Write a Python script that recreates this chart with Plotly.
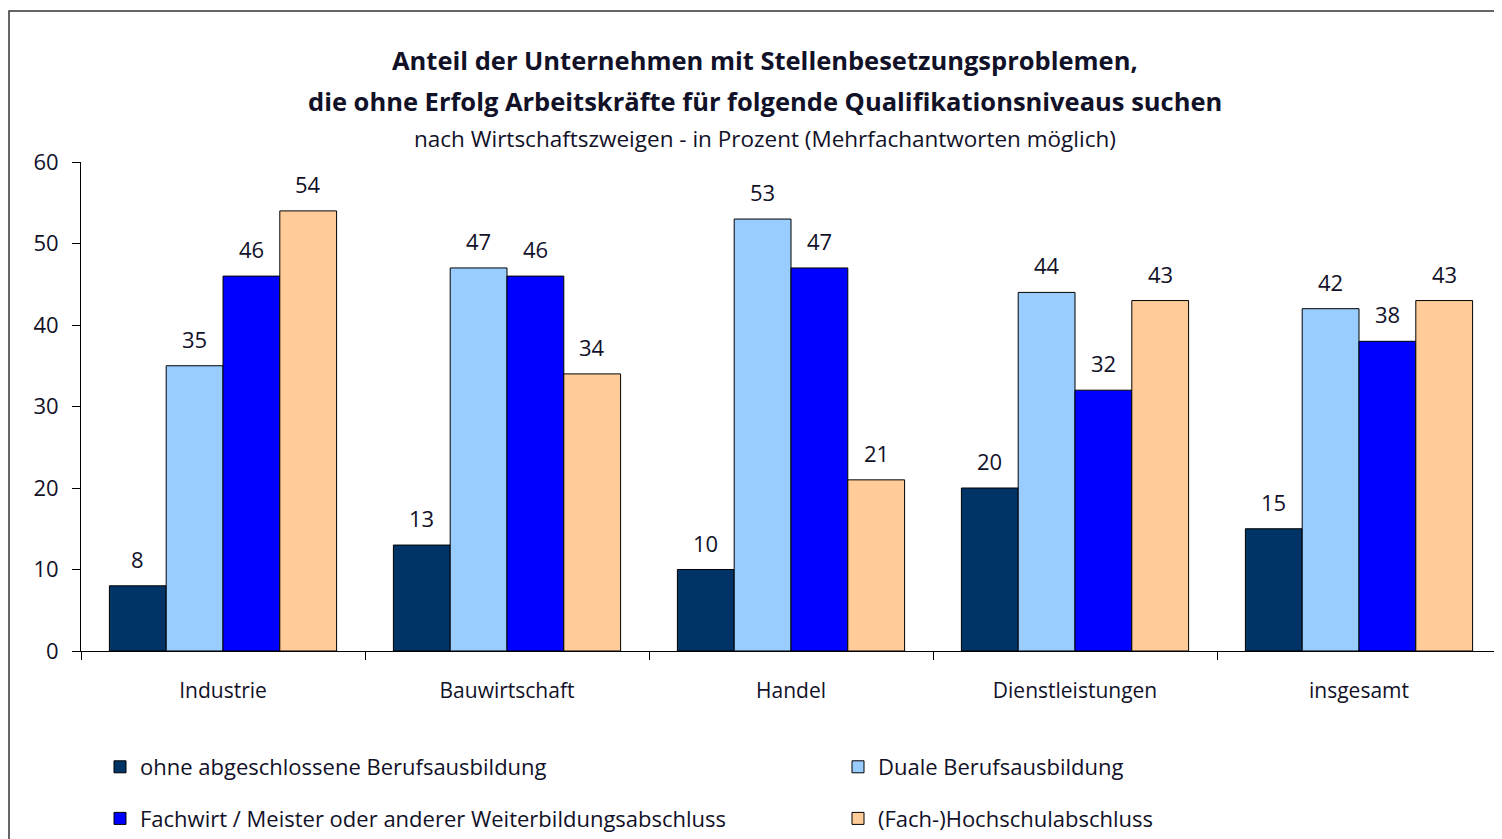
import plotly.graph_objects as go

categories = ["Industrie", "Bauwirtschaft", "Handel", "Dienstleistungen", "insgesamt"]
series_names = [
    "ohne abgeschlossene Berufsausbildung",
    "Duale Berufsausbildung",
    "Fachwirt / Meister oder anderer Weiterbildungsabschluss",
    "(Fach-)Hochschulabschluss",
]
ohne = [8, 13, 10, 20, 15]
duale = [35, 47, 53, 44, 42]
fachwirt = [46, 46, 47, 32, 38]
hochschule = [54, 34, 21, 43, 43]
values = [ohne, duale, fachwirt, hochschule]
colors = ["#003366", "#99CCFF", "#0000FF", "#FFCC99"]
legend_ids = ["legend", "legend2", "legend", "legend2"]
y_ticks = [0, 10, 20, 30, 40, 50, 60]

FONT = "Open Sans"
TXT = "#111128"

# page body offset of the plot div (default HTML body margin)
OFF = 8
W, H = 1502, 839
L, T = 81 - OFF, 162 - OFF
pw, ph = 1420, 489
R = W - L - pw
B = H - T - ph


def px(xs):
    """screen x -> paper x"""
    return (xs - OFF - L) / pw


def py(ys):
    """screen y -> paper y"""
    return (T + ph - (ys - OFF)) / ph


fig = go.Figure()
for name, vals, col, lg in zip(series_names, values, colors, legend_ids):
    fig.add_trace(go.Bar(
        x=categories, y=vals, name=name, legend=lg, legendgroup=name,
        marker=dict(color=col, line=dict(color="#000000", width=1)),
    ))

annotations = []
n = len(values)
bw = 0.8 / n
for i, vals in enumerate(values):
    for j, v in enumerate(vals):
        annotations.append(dict(
            x=j + (i - (n - 1) / 2) * bw, y=v, xref="x", yref="y",
            text=str(v), showarrow=False, yanchor="bottom", yshift=10,
            font=dict(family=FONT, size=22, color=TXT),
        ))

annotations += [
    dict(x=px(765), y=py(60), xref="paper", yref="paper", showarrow=False,
         text="<b>Anteil der Unternehmen mit Stellenbesetzungsproblemen,</b>",
         font=dict(family=FONT, size=25.5, color=TXT), xanchor="center", yanchor="middle"),
    dict(x=px(765), y=py(101), xref="paper", yref="paper", showarrow=False,
         text="<b>die ohne Erfolg Arbeitskräfte für folgende Qualifikationsniveaus suchen</b>",
         font=dict(family=FONT, size=25.5, color=TXT), xanchor="center", yanchor="middle"),
    dict(x=px(765), y=py(139), xref="paper", yref="paper", showarrow=False,
         text="nach Wirtschaftszweigen - in Prozent (Mehrfachantworten möglich)",
         font=dict(family=FONT, size=22.5, color=TXT), xanchor="center", yanchor="middle"),
]

legend_common = dict(
    orientation="v", xanchor="left", yanchor="top",
    font=dict(family=FONT, size=22, color=TXT),
    itemwidth=30, tracegroupgap=20, bgcolor="rgba(0,0,0,0)",
)

fig.update_layout(
    width=W, height=H,
    margin=dict(l=L, r=R, t=T, b=B, pad=0, autoexpand=False),
    paper_bgcolor="white", plot_bgcolor="white",
    barmode="group", bargap=0.2, bargroupgap=0,
    font=dict(family=FONT, size=21, color=TXT),
    showlegend=True,
    legend=dict(x=px(100), y=py(746), **legend_common),
    legend2=dict(x=px(838), y=py(746), **legend_common),
    annotations=annotations,
    shapes=[dict(type="rect", xref="paper", yref="paper",
                 x0=px(9), x1=px(1540), y0=py(880), y1=py(11),
                 line=dict(color="#333333", width=1.5), fillcolor="rgba(0,0,0,0)",
                 layer="below")],
    xaxis=dict(
        showline=True, linecolor="#000000", linewidth=1,
        ticks="outside", tickson="boundaries", ticklen=8, tickcolor="#000000",
        showgrid=False, tickfont=dict(family=FONT, size=21, color=TXT),
        ticklabelstandoff=21,
    ),
    yaxis=dict(
        range=[0, 60], tickvals=y_ticks, showline=True, linecolor="#000000", linewidth=1,
        ticks="outside", ticklen=8, tickcolor="#000000", showgrid=False, zeroline=False,
        tickfont=dict(family=FONT, size=22, color=TXT), ticklabelstandoff=9,
    ),
)

fig.write_html("out.html")
